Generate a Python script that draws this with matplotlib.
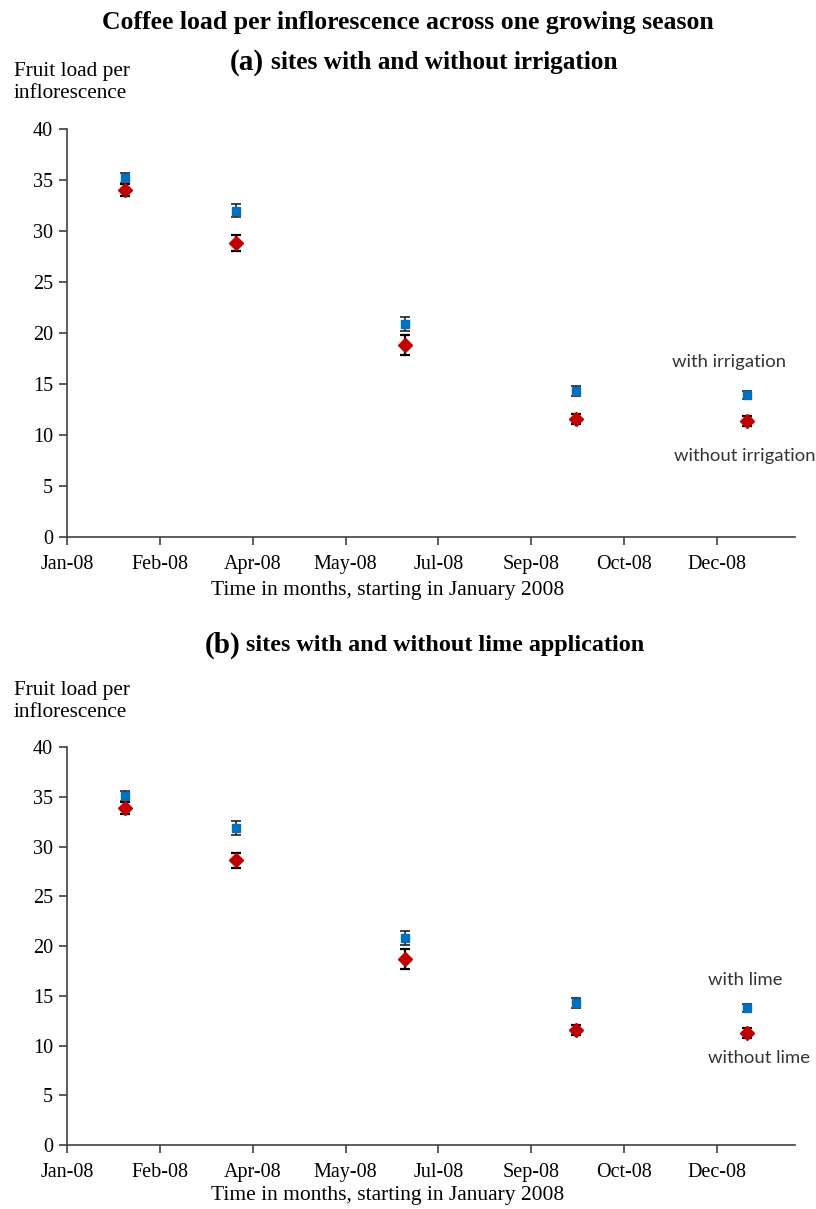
import datetime as dt
import matplotlib
matplotlib.use("Agg")
import matplotlib.pyplot as plt
import matplotlib.dates as mdates

# sampling dates (same for both panels)
dates = [dt.date(2008, 2, 1), dt.date(2008, 4, 1), dt.date(2008, 7, 1),
         dt.date(2008, 10, 1), dt.date(2009, 1, 1)]

# (a) irrigation
irr_with = [35.2, 32.0, 20.9, 14.3, 13.9]
irr_with_err = [0.5, 0.6, 0.7, 0.5, 0.4]
irr_without = [34.0, 28.8, 18.8, 11.6, 11.4]
irr_without_err = [0.6, 0.8, 1.0, 0.5, 0.5]

# (b) lime
lime_with = [35.1, 31.9, 20.8, 14.3, 13.8]
lime_with_err = [0.5, 0.7, 0.7, 0.5, 0.4]
lime_without = [33.9, 28.6, 18.7, 11.6, 11.3]
lime_without_err = [0.6, 0.8, 1.0, 0.5, 0.5]

tick_dates = [dt.date(2008, 1, 1) + dt.timedelta(days=50 * i) for i in range(8)]

serif = "Liberation Serif"
axis_col = "#404040"

fig = plt.figure(figsize=(8.16, 12.09), dpi=100)

def draw_panel(ax, yw, ew, yo, eo, lab_with, lab_without, pos_with, pos_without, xlab_y):
    ax.errorbar(dates, yw, yerr=ew, fmt="s", color="#0070C0", ms=6,
                ecolor="#222222", elinewidth=1.2, capsize=3.7, capthick=1.2, zorder=3)
    ax.errorbar(dates, yo, yerr=eo, fmt="D", color="#C00000", ms=7.5,
                ecolor="black", elinewidth=1.6, capsize=3.7, capthick=1.6, zorder=3)
    ax.set_ylim(0, 40)
    ax.set_xlim(dt.date(2008, 1, 1), dt.date(2009, 1, 27))
    ax.set_yticks(range(0, 41, 5))
    ax.set_xticks(tick_dates)
    ax.xaxis.set_major_formatter(mdates.DateFormatter("%b-%y"))
    for s in ["top", "right"]:
        ax.spines[s].set_visible(False)
    for s in ["left", "bottom"]:
        ax.spines[s].set_color(axis_col)
        ax.spines[s].set_linewidth(1.2)
    ax.tick_params(direction="out", length=6, width=1.2, color=axis_col,
                   labelsize=14.5, pad=4)
    ax.tick_params(axis="x", pad=7)
    for t in ax.get_xticklabels() + ax.get_yticklabels():
        t.set_fontfamily(serif)
    ax.set_xlabel("Time in months, starting in January 2008", fontsize=15.5,
                  family=serif)
    ax.xaxis.set_label_coords(0.44, xlab_y)
    ax.text(pos_with[0], pos_with[1], lab_with, family="Lato", fontsize=13.3,
            color="#333333", va="center")
    ax.text(pos_without[0], pos_without[1], lab_without, family="Lato", fontsize=13.3,
            color="#333333", va="center")

ax1 = fig.add_axes([0.0821, 0.5558, 0.892, 0.3375])
draw_panel(ax1, irr_with, irr_with_err, irr_without, irr_without_err,
           "with irrigation", "without irrigation",
           (dt.date(2008, 11, 22), 17.2), (dt.date(2008, 11, 23), 7.9), -0.108)

ax2 = fig.add_axes([0.0821, 0.0529, 0.892, 0.3292])
draw_panel(ax2, lime_with, lime_with_err, lime_without, lime_without_err,
           "with lime", "without lime",
           (dt.date(2008, 12, 11), 16.6), (dt.date(2008, 12, 11), 8.7), -0.104)

H = 1209.0
fig.text(0.5, 1 - 22 / H, "Coffee load per inflorescence across one growing season",
         ha="center", va="center", family=serif, weight="bold", fontsize=18.5)
fig.text(264 / 816, 1 - 62 / H, "(a)", ha="right", va="center", family=serif,
         weight="bold", fontsize=21)
fig.text(271 / 816, 1 - 62 / H, "sites with and without irrigation", ha="left",
         va="center", family=serif, weight="bold", fontsize=18.2)
fig.text(240 / 816, 1 - 645 / H, "(b)", ha="right", va="center", family=serif,
         weight="bold", fontsize=21)
fig.text(246 / 816, 1 - 645 / H, "sites with and without lime application", ha="left",
         va="center", family=serif, weight="bold", fontsize=17.4)

for top in [62, 681]:
    fig.text(14 / 816, 1 - top / H, "Fruit load per\ninflorescence", ha="left",
             va="top", family=serif, fontsize=15.3, linespacing=1.2)

fig.savefig("out.png", dpi=100)
